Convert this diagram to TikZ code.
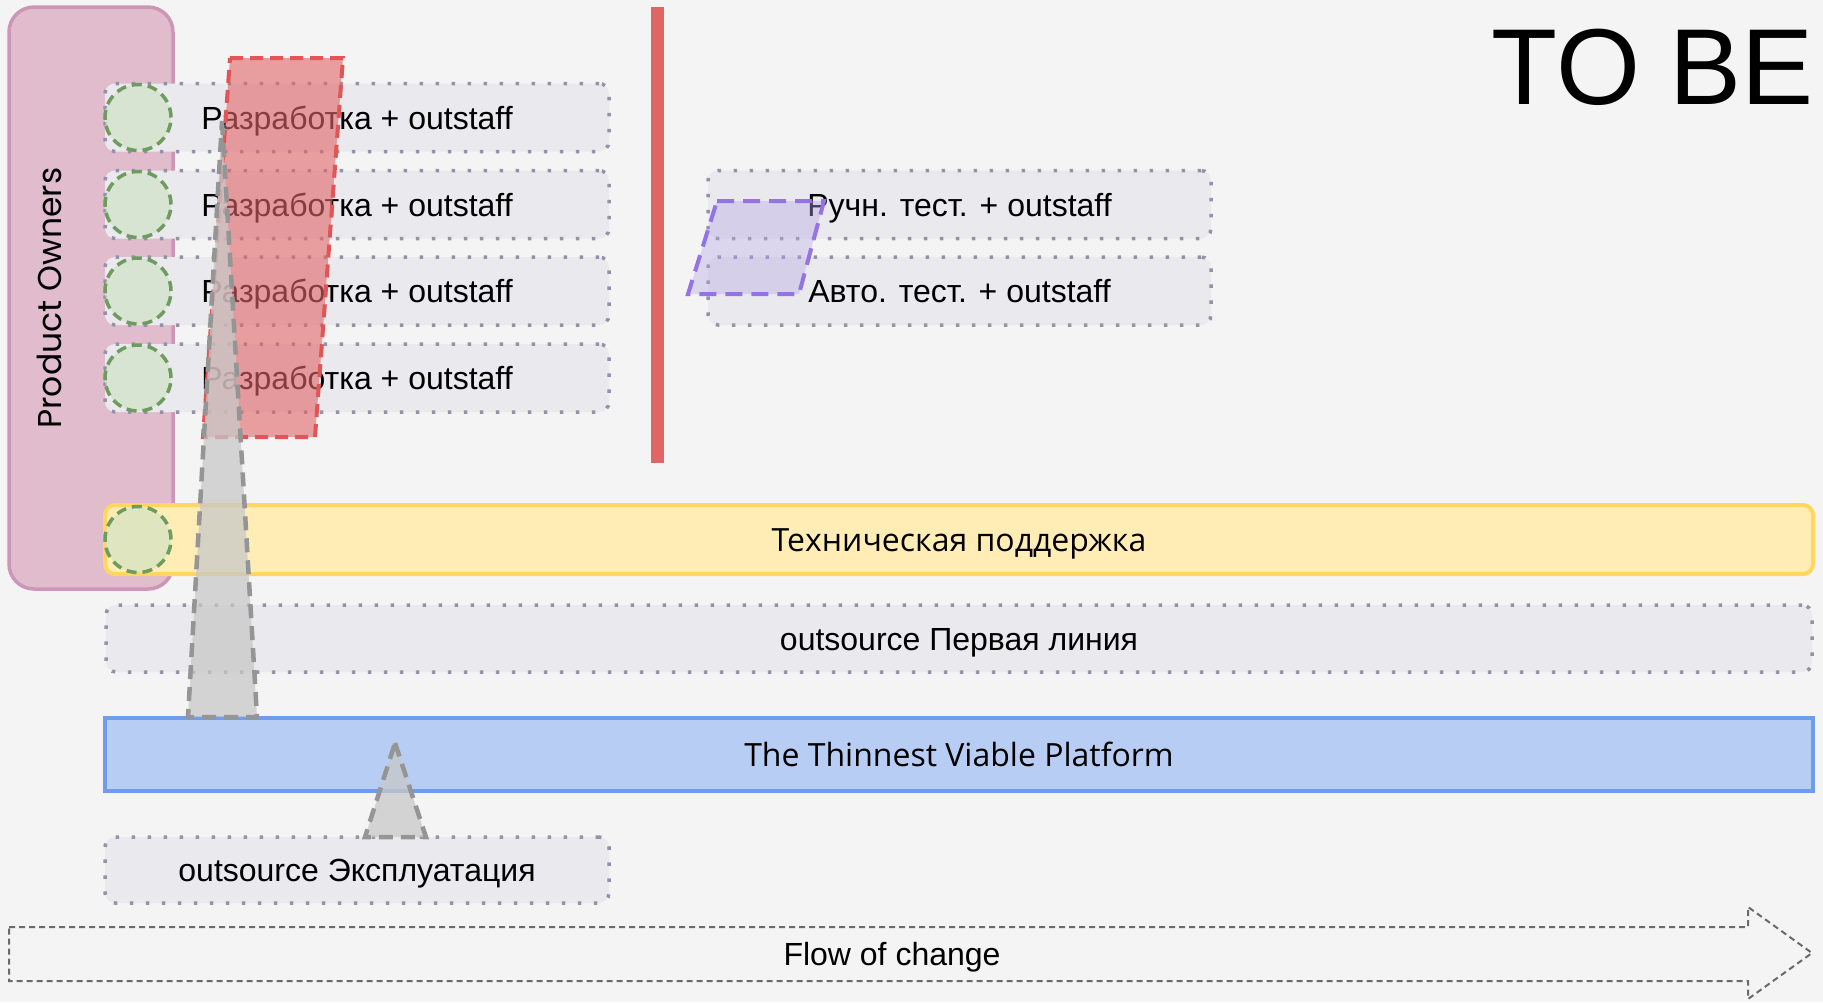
\documentclass[tikz,border=0pt]{standalone}
\usepackage{fontspec}
\setmainfont{Liberation Sans}
\newfontfamily\opensans{Open Sans}
\newfontfamily\poppins{Poppins}
\definecolor{bgc}{HTML}{F4F4F4}
\definecolor{pofill}{HTML}{E0BCCD}
\definecolor{podraw}{HTML}{CD95B6}
\definecolor{rowfill}{HTML}{EAE9EE}
\definecolor{rowdraw}{HTML}{9592A8}
\definecolor{greenfill}{RGB}{208,227,197}
\definecolor{greendraw}{HTML}{6E9B5E}
\definecolor{redfill}{HTML}{E06666}
\definecolor{reddraw}{HTML}{E05555}
\definecolor{purplefill}{HTML}{B4A7E6}
\definecolor{purpledraw}{HTML}{9473E6}
\definecolor{yelfill}{HTML}{FFEDB5}
\definecolor{yeldraw}{HTML}{FFD660}
\definecolor{bluefill}{HTML}{B8CDF3}
\definecolor{bluedraw}{HTML}{6E9EEB}
\definecolor{grayfill}{HTML}{C8C8C8}
\definecolor{graydraw}{HTML}{959595}
\definecolor{flowdraw}{HTML}{6A6A6A}
\begin{document}
\begin{tikzpicture}[x=1pt,y=-1pt,
  txt/.style={font=\fontsize{32}{37}\selectfont, text height=23pt, text depth=0pt},
  rowbox/.style={draw=rowdraw, fill=rowfill, line width=3.5pt, dash pattern=on 3.5pt off 12.5pt,
     rounded corners=10pt, minimum height=68pt, inner sep=0pt, txt},
  greencirc/.style={circle, draw=greendraw, fill=greenfill, fill opacity=0.67, draw opacity=1,
     line width=3.5pt, dash pattern=on 10pt off 6pt, minimum size=66pt, inner sep=0pt},
  solidbar/.style={line width=4pt, minimum height=69pt, inner sep=0pt, txt},
  redpara/.style={fill=redfill, fill opacity=0.6, draw=reddraw, draw opacity=1, line width=4pt,
     dash pattern=on 13pt off 7pt},
  purplepara/.style={fill=purplefill, fill opacity=0.38, draw=purpledraw, draw opacity=1, line width=4pt,
     dash pattern=on 17pt off 9pt},
  graytri/.style={fill=grayfill, fill opacity=0.75, draw=graydraw, draw opacity=1, line width=4.5pt,
     dash pattern=on 14pt off 8pt},
  flowline/.style={draw=flowdraw, line width=2pt, dash pattern=on 6pt off 4pt}
]
\useasboundingbox (0,0) rectangle (1823,1002);
\fill[bgc] (0,0) rectangle (1823,1002);

% Product owners
\node[draw=podraw, fill=pofill, line width=3.5pt, rounded corners=25pt,
      minimum width=164pt, minimum height=582pt, inner sep=0pt] (po) at (91,298) {};
\node[rotate=90, font=\poppins\fontsize{33}{38}\selectfont] (potext) at (49,298) {Product Owners};

% development rows
\node[rowbox, minimum width=504pt] (dev1) at (357,117.5) {Разработка + outstaff};
\node[rowbox, minimum width=504pt] (dev2) at (357,204.5) {Разработка + outstaff};
\node[rowbox, minimum width=504pt] (dev3) at (357,291) {Разработка + outstaff};
\node[rowbox, minimum width=504pt] (dev4) at (357,378) {Разработка + outstaff};
\node[greencirc] (c1) at (138,117.5) {};
\node[greencirc] (c2) at (138,204.5) {};
\node[greencirc] (c3) at (138,291) {};
\node[greencirc] (c4) at (138,378) {};

% test rows
\node[rowbox, minimum width=503pt] (test1) at (959.5,204.5) {Ручн. тест. + outstaff};
\node[rowbox, minimum width=503pt] (test2) at (959.5,291) {Авто. тест. + outstaff};

% divider
\node[fill=redfill, minimum width=13pt, minimum height=456pt, inner sep=0pt] (divider) at (657.5,235) {};

% purple parallelogram
\coordinate (pA) at (717,201);
\coordinate (pB) at (824,201);
\coordinate (pC) at (799,294);
\coordinate (pD) at (688,294);
\path[purplepara] (pA) -- (pB) -- (pC) -- (pD) -- cycle;

% support bar
\node[solidbar, draw=yeldraw, fill=yelfill, rounded corners=10pt, minimum width=1708pt,
      font=\opensans\fontsize{32}{37}\selectfont] (support) at (959,539.5) {Техническая поддержка};
\node[greencirc] (c5) at (138,539.5) {};

% first line
\node[rowbox, minimum width=1706pt, minimum height=67pt] (firstline) at (959,638.5) {outsource Первая линия};

% platform
\node[solidbar, draw=bluedraw, fill=bluefill, minimum width=1708pt, minimum height=73pt,
      font=\opensans\fontsize{32}{37}\selectfont] (platform) at (959,754.5) {The Thinnest Viable Platform};

% red parallelogram
\coordinate (rA) at (230,58);
\coordinate (rB) at (343,58);
\coordinate (rC) at (315,437);
\coordinate (rD) at (203,437);
\path[redpara] (rA) -- (rB) -- (rC) -- (rD) -- cycle;

% big gray triangle
\coordinate (gA) at (222,121);
\coordinate (gB) at (257,717);
\coordinate (gC) at (188,717);
\path[graytri] (gA) -- (gB) -- (gC) -- cycle;

% exploitation
\node[rowbox, minimum width=504pt, minimum height=66pt] (ops) at (357,870) {outsource Эксплуатация};

% small gray triangle
\coordinate (sA) at (395,743);
\coordinate (sB) at (426,837);
\coordinate (sC) at (365,837);
\path[graytri] (sA) -- (sB) -- (sC) -- cycle;

% flow of change
\coordinate (f1) at (9,927);
\coordinate (f2) at (1748,927);
\coordinate (f3) at (1748,907);
\coordinate (f4) at (1812,953);
\coordinate (f5) at (1748,999);
\coordinate (f6) at (1748,981);
\coordinate (f7) at (9,981);
\path[flowline] (f1) -- (f2) -- (f3) -- (f4) -- (f5) -- (f6) -- (f7) -- cycle;
\node[txt] (flow) at (892,954) {Flow of change};

% title
\node[anchor=base, font=\fontsize{108}{120}\selectfont, inner sep=0pt] (title) at (1653,104) {TO BE};
\end{tikzpicture}
\end{document}
